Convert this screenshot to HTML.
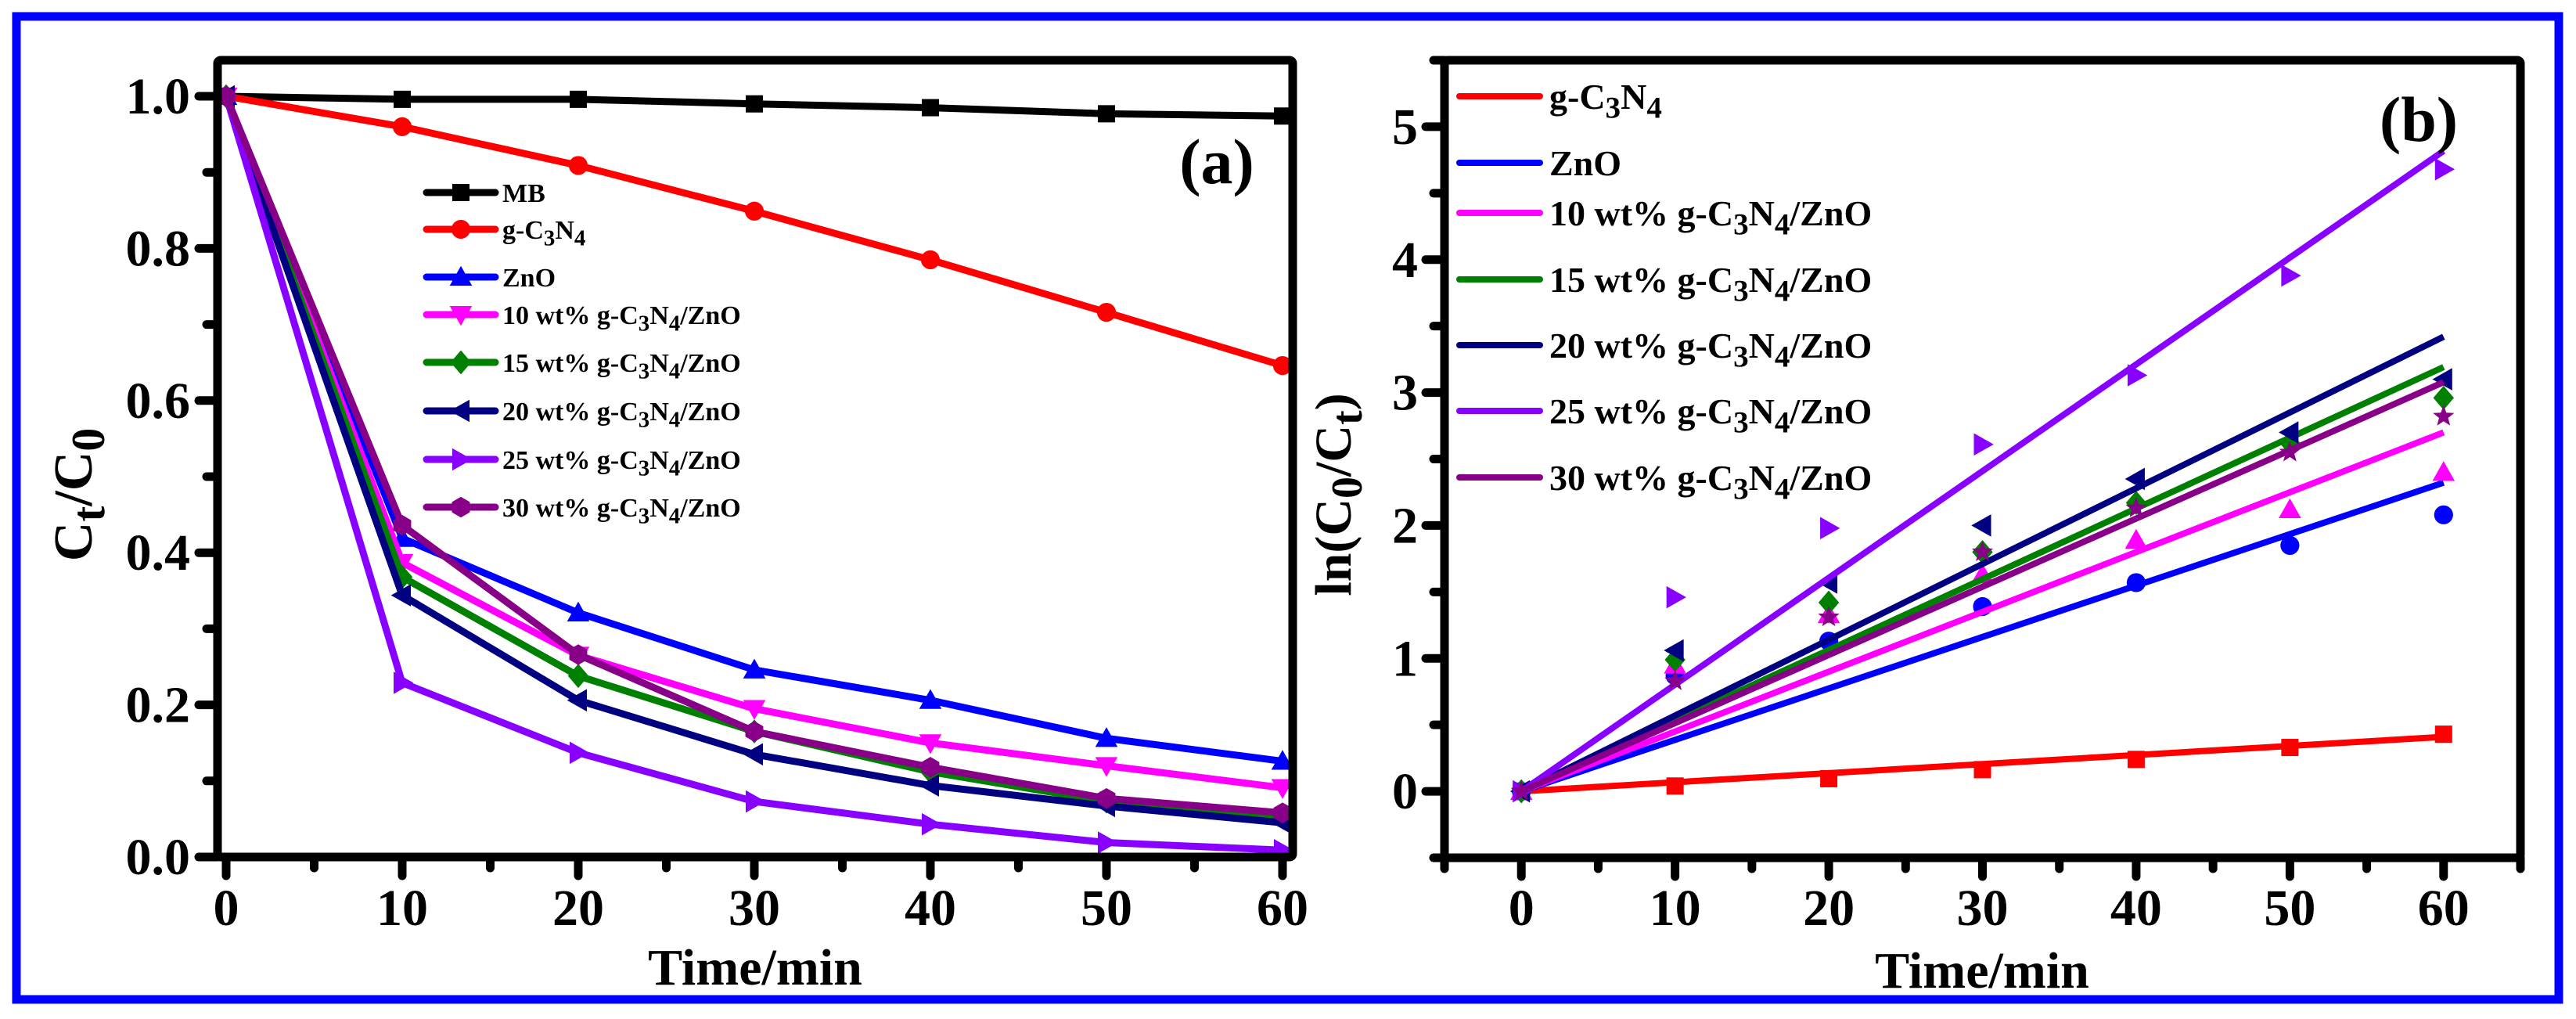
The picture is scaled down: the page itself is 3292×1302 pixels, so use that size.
<!DOCTYPE html>
<html><head><meta charset="utf-8"><style>
html,body{margin:0;padding:0;background:#fff;}
svg{display:block;font-family:"Liberation Serif",serif;font-weight:bold;}
</style></head><body>
<svg id="fig" width="3292" height="1302" viewBox="0 0 3292 1302" xmlns="http://www.w3.org/2000/svg">
<rect x="21" y="21" width="3249" height="1256" fill="none" stroke="#0000ff" stroke-width="11"/>
<g id="pa"></g>
<g id="pb"></g>
</svg>
<script>
// ---------- Panel (a) data ----------
const timesA = [0, 10, 20, 30, 40, 50, 60];
const mbA    = [1, 0.996, 0.996, 0.990, 0.985, 0.977, 0.974];
const gcnA   = [1, 0.960, 0.909, 0.849, 0.785, 0.716, 0.646];
const znoA   = [1, 0.419, 0.321, 0.246, 0.206, 0.156, 0.126];
const w10A   = [1, 0.387, 0.265, 0.195, 0.150, 0.120, 0.091];
const w15A   = [1, 0.368, 0.238, 0.165, 0.112, 0.073, 0.054];
const w20A   = [1, 0.344, 0.206, 0.135, 0.094, 0.067, 0.045];
const w25A   = [1, 0.229, 0.137, 0.073, 0.043, 0.019, 0.009];
const w30A   = [1, 0.436, 0.266, 0.165, 0.118, 0.077, 0.058];
const xTicksA = [0, 10, 20, 30, 40, 50, 60];
const yTicksA = [0.0, 0.2, 0.4, 0.6, 0.8, 1.0];
// ---------- Panel (b) data ----------
const timesB = [0, 10, 20, 30, 40, 50, 60];
const gcnB = [0, 0.04, 0.095, 0.163, 0.24, 0.33, 0.43];
const znoB = [0, 0.87, 1.13, 1.39, 1.57, 1.85, 2.08];
const w10B = [0, 0.95, 1.33, 1.63, 1.89, 2.12, 2.40];
const w15B = [0, 0.99, 1.42, 1.80, 2.17, 2.62, 2.96];
const w20B = [0, 1.06, 1.57, 2.00, 2.35, 2.70, 3.10];
const w25B = [0, 1.46, 1.98, 2.61, 3.13, 3.88, 4.68];
const w30B = [0, 0.83, 1.31, 1.80, 2.13, 2.55, 2.82];
const slopesB = [0.00683, 0.0387, 0.045, 0.0532, 0.057, 0.0803, 0.0513];
const xTicksB = [0, 10, 20, 30, 40, 50, 60];
const yTicksB = [0, 1, 2, 3, 4, 5];

const NS = "http://www.w3.org/2000/svg";
function mk(parent, tag, attrs){ const e=document.createElementNS(NS,tag); for(const k in attrs) e.setAttribute(k,attrs[k]); parent.appendChild(e); return e; }

function marker(g, type, cx, cy, s, color){
  let e;
  if(type==='square') e=mk(g,'rect',{x:cx-s,y:cy-s,width:2*s,height:2*s,fill:color});
  else if(type==='circle') e=mk(g,'circle',{cx:cx,cy:cy,r:s*1.1,fill:color});
  else if(type==='up') e=mk(g,'polygon',{points:`${cx},${cy-s*1.3} ${cx-s*1.3},${cy+s} ${cx+s*1.3},${cy+s}`,fill:color});
  else if(type==='down') e=mk(g,'polygon',{points:`${cx},${cy+s*1.3} ${cx-s*1.3},${cy-s} ${cx+s*1.3},${cy-s}`,fill:color});
  else if(type==='diamond') e=mk(g,'polygon',{points:`${cx},${cy-s*1.4} ${cx+s*1.2},${cy} ${cx},${cy+s*1.4} ${cx-s*1.2},${cy}`,fill:color});
  else if(type==='left') e=mk(g,'polygon',{points:`${cx-s*1.3},${cy} ${cx+s},${cy-s*1.3} ${cx+s},${cy+s*1.3}`,fill:color});
  else if(type==='right') e=mk(g,'polygon',{points:`${cx+s*1.3},${cy} ${cx-s},${cy-s*1.3} ${cx-s},${cy+s*1.3}`,fill:color});
  else if(type==='hex'){ let p=[]; for(let i=0;i<6;i++){const a=Math.PI/3*i+Math.PI/6; p.push((cx+s*1.2*Math.cos(a))+','+(cy+s*1.2*Math.sin(a)));} e=mk(g,'polygon',{points:p.join(' '),fill:color}); }
  else if(type==='star'){ let p=[]; for(let i=0;i<10;i++){const a=-Math.PI/2+Math.PI/5*i; const r=i%2?s*0.55:s*1.3; p.push((cx+r*Math.cos(a))+','+(cy+r*Math.sin(a)));} e=mk(g,'polygon',{points:p.join(' '),fill:color}); }
  return e;
}
function chemLabel(g, x, y, prefix, size){
  const t=mk(g,'text',{x:x,y:y,'font-size':size});
  t.appendChild(document.createTextNode(prefix+'g-C'));
  const s1=mk(t,'tspan',{dy:size*0.25,'font-size':size*0.85}); s1.textContent='3';
  const s2=mk(t,'tspan',{dy:-size*0.25}); s2.textContent='N';
  const s3=mk(t,'tspan',{dy:size*0.25,'font-size':size*0.85}); s3.textContent='4';
  if(prefix){ const s4=mk(t,'tspan',{dy:-size*0.25}); s4.textContent='/ZnO'; }
  return t;
}

// ================= Panel A =================
(function(){
  const g=document.getElementById('pa');
  const L=278,R=1652,T=77,B=1095;
  const x0=289,xs=(1639-289)/60;
  const X=v=>x0+v*xs, Y=v=>1095-(v)*972;
  const series=[
    {n:'mb',d:mbA,c:'#000000',m:'square'},
    {n:'g-c3n4',d:gcnA,c:'#ff0000',m:'circle'},
    {n:'zno',d:znoA,c:'#0000ff',m:'up'},
    {n:'10wt',d:w10A,c:'#ff00ff',m:'down'},
    {n:'15wt',d:w15A,c:'#008000',m:'diamond'},
    {n:'20wt',d:w20A,c:'#000080',m:'left'},
    {n:'25wt',d:w25A,c:'#8800ff',m:'right'},
    {n:'30wt',d:w30A,c:'#880088',m:'hex'}];
  series.forEach(s=>{
    const sg=mk(g,'g',{});
    
    
    const pl=mk(sg,'polyline',{points:timesA.map((t,i)=>X(t)+','+Y(s.d[i])).join(' '),fill:'none',stroke:s.c,'stroke-width':9,'stroke-linejoin':'round'});
    
    
    timesA.forEach((t,i)=>{const m=marker(sg,s.m,X(t),Y(s.d[i]),11,s.c);
      
      });
  });
  const fr=mk(g,'rect',{x:L,y:T,width:R-L,height:B-T,fill:'none',stroke:'#000','stroke-width':11,rx:4});
  
  
  for(let v=0;v<=60;v+=5){const maj=v%10===0; mk(g,'line',{x1:X(v),y1:B,x2:X(v),y2:B+(maj?24:14),stroke:'#000','stroke-width':11,'stroke-linecap':'round'});}
  for(let v=0;v<=1.001;v+=0.1){const maj=Math.round(v*10)%2===0; mk(g,'line',{x1:L,y1:Y(v),x2:L-(maj?24:14),y2:Y(v),stroke:'#000','stroke-width':11,'stroke-linecap':'round'});}
  xTicksA.forEach(v=>{const t=mk(g,'text',{x:X(v),y:1182,'text-anchor':'middle','font-size':66});t.textContent=v;
    
    });
  yTicksA.forEach(v=>{const t=mk(g,'text',{x:243,y:Y(v)+22,'text-anchor':'end','font-size':66});t.textContent=v.toFixed(1);
    
    });
  const xt=mk(g,'text',{x:965,y:1258,'text-anchor':'middle','font-size':66});xt.textContent='Time/min';
  
  
  const yt=mk(g,'text',{x:0,y:0,'text-anchor':'middle','font-size':70,transform:'translate(117,632) rotate(-90)'});
  yt.appendChild(document.createTextNode('C'));
  const a1=mk(yt,'tspan',{dy:16,'font-size':60});a1.textContent='t';
  const a2=mk(yt,'tspan',{dy:-16});a2.textContent='/C';
  const a3=mk(yt,'tspan',{dy:16,'font-size':60});a3.textContent='0';
  
  
  const pl=mk(g,'text',{x:1555,y:234,'text-anchor':'middle','font-size':82});pl.textContent='(a)';
  
  
  // legend
  const ly=[246,293,354,402,463,525,587,648];
  const names=['MB','g-C3N4','ZnO','10 wt% ','15 wt% ','20 wt% ','25 wt% ','30 wt% '];
  series.forEach((s,i)=>{
    const lg=mk(g,'g',{});
    
    
    mk(lg,'line',{x1:545,y1:ly[i],x2:633,y2:ly[i],stroke:s.c,'stroke-width':9,'stroke-linecap':'round'});
    marker(lg,s.m,589,ly[i],11,s.c);
    if(i===0){const t=mk(lg,'text',{x:642,y:ly[i]+12,'font-size':34});t.textContent='MB';}
    else if(i===1){chemLabel(lg,642,ly[i]+12,'',34);}
    else if(i===2){const t=mk(lg,'text',{x:642,y:ly[i]+12,'font-size':34});t.textContent='ZnO';}
    else chemLabel(lg,642,ly[i]+12,names[i],34);
  });
})();

// ================= Panel B =================
(function(){
  const g=document.getElementById('pb');
  const L=1846,R=3221,T=77,B=1096;
  const X=v=>L+(v+5)*(R-L)/70, Y=v=>B-(v+0.5)*(B-T)/6;
  const series=[
    {n:'g-c3n4',d:gcnB,c:'#ff0000',m:'square'},
    {n:'zno',d:znoB,c:'#0000ff',m:'circle'},
    {n:'10wt',d:w10B,c:'#ff00ff',m:'up'},
    {n:'15wt',d:w15B,c:'#008000',m:'diamond'},
    {n:'20wt',d:w20B,c:'#000080',m:'left'},
    {n:'25wt',d:w25B,c:'#8800ff',m:'right'},
    {n:'30wt',d:w30B,c:'#880088',m:'star'}];
  series.forEach((s,k)=>{
    const sg=mk(g,'g',{});
    
    
    timesB.forEach((t,i)=>{const m=marker(sg,s.m,X(t),Y(s.d[i]),11,s.c);
      
      });
    const ln=mk(sg,'line',{x1:X(0),y1:Y(0),x2:X(60),y2:Y(slopesB[k]*60),stroke:s.c,'stroke-width':8});
    
    
  });
  const fr=mk(g,'rect',{x:L,y:T,width:R-L,height:B-T,fill:'none',stroke:'#000','stroke-width':11,rx:4});
  
  
  for(let v=-5;v<=65;v+=5){const maj=v%10===0; mk(g,'line',{x1:X(v),y1:B,x2:X(v),y2:B+(maj?24:14),stroke:'#000','stroke-width':11,'stroke-linecap':'round'});}
  for(let k=-1;k<=11;k++){const v=k/2;const maj=k%2===0; mk(g,'line',{x1:L,y1:Y(v),x2:L-(maj?24:14),y2:Y(v),stroke:'#000','stroke-width':11,'stroke-linecap':'round'});}
  xTicksB.forEach(v=>{const t=mk(g,'text',{x:X(v),y:1182,'text-anchor':'middle','font-size':66});t.textContent=v;
    
    });
  yTicksB.forEach(v=>{const t=mk(g,'text',{x:1812,y:Y(v)+22,'text-anchor':'end','font-size':66});t.textContent=v;
    
    });
  const xt=mk(g,'text',{x:2533,y:1262,'text-anchor':'middle','font-size':66});xt.textContent='Time/min';
  
  
  const yt=mk(g,'text',{x:0,y:0,'text-anchor':'middle','font-size':66,transform:'translate(1726,632) rotate(-90)'});
  yt.appendChild(document.createTextNode('ln(C'));
  const b1=mk(yt,'tspan',{dy:14,'font-size':56});b1.textContent='0';
  const b2=mk(yt,'tspan',{dy:-14});b2.textContent='/C';
  const b3=mk(yt,'tspan',{dy:14,'font-size':56});b3.textContent='t';
  const b4=mk(yt,'tspan',{dy:-14});b4.textContent=')';
  
  
  const pl=mk(g,'text',{x:3091,y:180,'text-anchor':'middle','font-size':82});pl.textContent='(b)';
  
  
  const ly=[123,208,272,357,441,525,610];
  const names=['','','10 wt% ','15 wt% ','20 wt% ','25 wt% ','30 wt% '];
  series.forEach((s,i)=>{
    const lg=mk(g,'g',{});
    
    
    mk(lg,'line',{x1:1865,y1:ly[i],x2:1968,y2:ly[i],stroke:s.c,'stroke-width':8,'stroke-linecap':'round'});
    if(i===1){const t=mk(lg,'text',{x:1980,y:ly[i]+16,'font-size':46});t.textContent='ZnO';}
    else if(i===0) chemLabel(lg,1980,ly[i]+16,'',46);
    else chemLabel(lg,1980,ly[i]+16,names[i],46);
  });
})();
</script>
</body></html>
